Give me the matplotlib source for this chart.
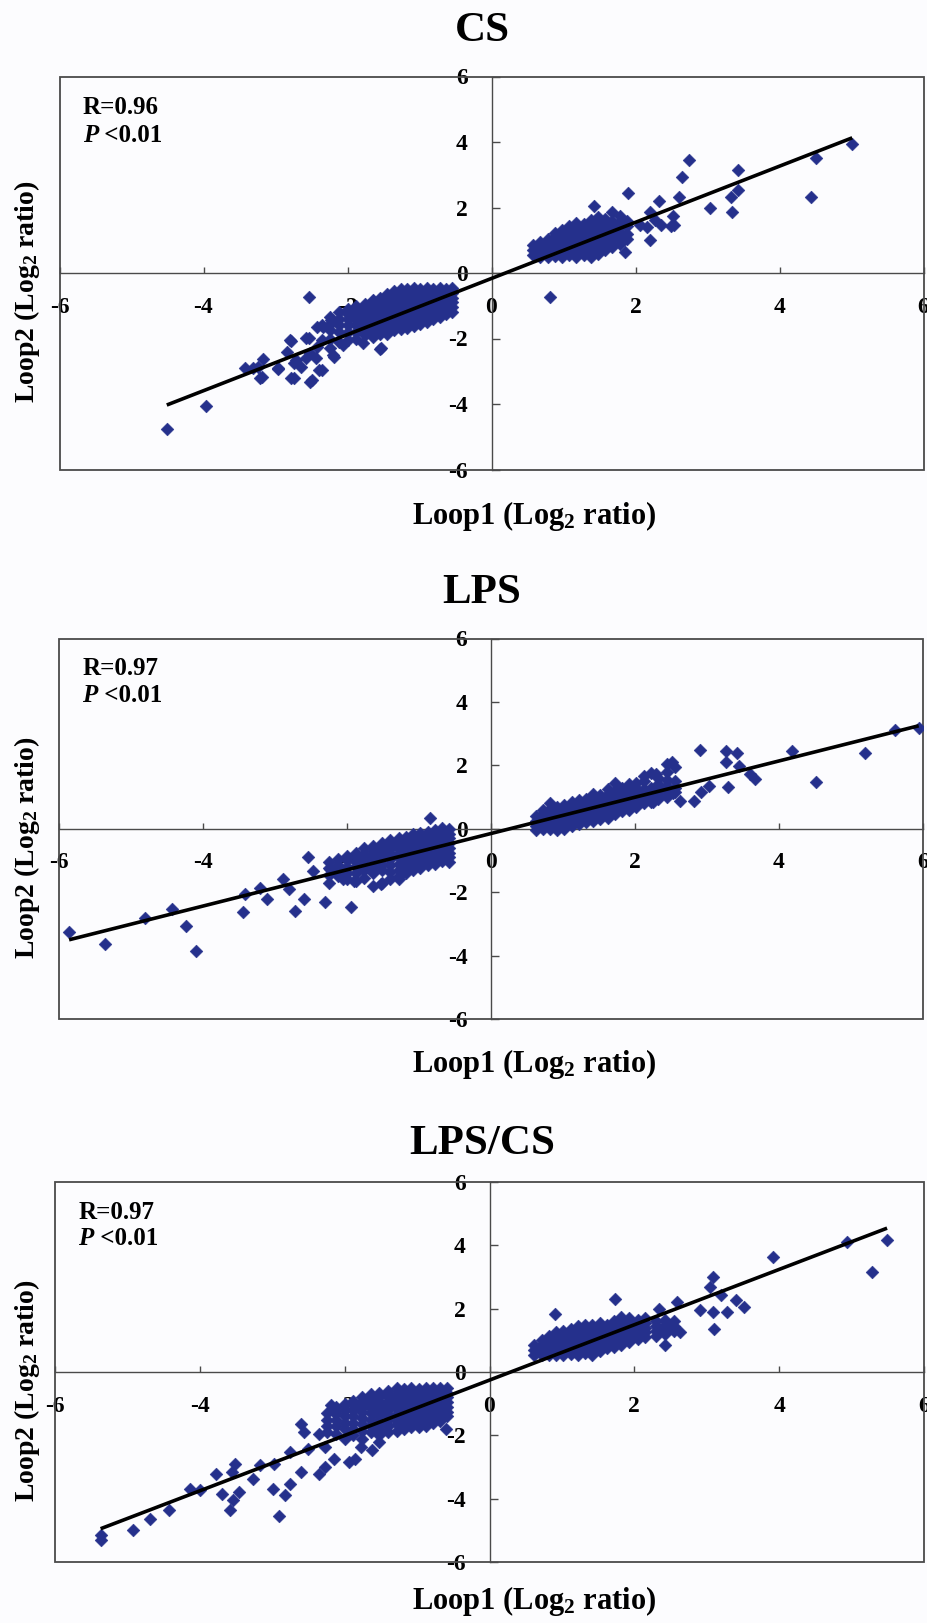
import matplotlib
matplotlib.use("Agg")
import matplotlib.pyplot as plt
from matplotlib.patches import Rectangle
import numpy as np

W, H = 927, 1623

# ---- values ----
# scattered points (x, y)
cs_points = [
    (5.01, 3.94), (4.50, 3.50), (4.44, 2.33), (3.43, 3.14), (3.43, 2.53), (3.33, 2.33),
    (3.34, 1.87), (3.03, 2.00), (2.74, 3.45), (2.64, 2.92), (2.61, 2.31), (2.33, 2.21),
    (2.20, 1.00), (2.49, 1.43), (2.52, 1.74), (2.27, 1.62), (2.20, 1.87), (2.36, 1.47),
    (2.53, 1.47), (2.16, 1.41), (2.06, 1.47), (1.89, 2.43), (1.86, 0.65), (1.42, 2.06),
    (0.81, -0.72),
    (-4.51, -4.77), (-3.97, -4.05), (-2.54, -0.74), (-3.24, -2.86), (-3.42, -2.91),
    (-3.21, -3.22), (-2.97, -2.94), (-2.79, -3.22), (-2.52, -3.32), (-2.80, -2.05),
    (-2.54, -1.99), (-2.34, -1.64), (-2.23, -1.43), (-2.39, -2.96), (-2.19, -2.55),
    (-2.44, -2.61), (-2.72, -2.66), (-1.53, -2.30), (-1.82, -1.64), (-1.65, -0.82),
    (-2.78, -2.07), (-2.84, -2.40), (-3.17, -2.64), (-3.31, -2.91), (-3.19, -3.19),
    (-2.96, -2.91), (-2.75, -3.22), (-2.64, -2.86), (-2.57, -2.61), (-2.43, -2.25),
    (-2.43, -1.64), (-2.75, -2.76), (-2.36, -1.59), (-2.21, -1.45), (-2.57, -1.99),
    (-2.36, -2.04), (-2.52, -2.45), (-2.36, -2.96), (-2.50, -3.27), (-2.20, -2.50),
    (-2.06, -2.20), (-1.55, -2.33), (-1.78, -2.15),
]
# dense clouds, one entry per column: (x, [y, ...])
cs_columns = [
    (0.58, [0.55, 0.70, 0.85]),
    (0.68, [0.50, 0.65, 0.80, 0.95]),
    (0.78, [0.50, 0.62, 0.75, 0.90, 1.05]),
    (0.88, [0.52, 0.65, 0.80, 0.95, 1.10, 1.22]),
    (0.98, [0.50, 0.62, 0.78, 0.90, 1.05, 1.20, 1.32]),
    (1.08, [0.55, 0.70, 0.85, 1.00, 1.15, 1.30, 1.42]),
    (1.18, [0.50, 0.65, 0.80, 0.95, 1.10, 1.25, 1.40, 1.52]),
    (1.28, [0.55, 0.70, 0.90, 1.05, 1.20, 1.35, 1.50]),
    (1.38, [0.50, 0.68, 0.85, 1.00, 1.15, 1.30, 1.45, 1.62]),
    (1.48, [0.58, 0.78, 0.95, 1.10, 1.25, 1.40, 1.55, 1.72]),
    (1.58, [0.70, 0.90, 1.05, 1.20, 1.35, 1.50, 1.65]),
    (1.68, [0.80, 1.00, 1.15, 1.30, 1.45, 1.60, 1.85]),
    (1.78, [0.90, 1.10, 1.25, 1.40, 1.55, 1.75]),
    (1.88, [1.05, 1.20, 1.45, 1.60]),
    (-0.55, [-0.45, -0.60, -0.75, -0.90, -1.05, -1.20]),
    (-0.63, [-0.50, -0.65, -0.80, -0.95, -1.10, -1.25]),
    (-0.72, [-0.45, -0.60, -0.75, -0.90, -1.05, -1.20, -1.35]),
    (-0.81, [-0.50, -0.65, -0.80, -0.95, -1.10, -1.25, -1.40]),
    (-0.90, [-0.45, -0.60, -0.75, -0.90, -1.05, -1.20, -1.35, -1.50]),
    (-0.99, [-0.50, -0.65, -0.80, -0.95, -1.10, -1.25, -1.40, -1.55]),
    (-1.08, [-0.45, -0.60, -0.75, -0.90, -1.05, -1.20, -1.35, -1.50, -1.62]),
    (-1.17, [-0.50, -0.65, -0.80, -0.95, -1.10, -1.25, -1.40, -1.55, -1.68]),
    (-1.26, [-0.50, -0.65, -0.80, -0.95, -1.10, -1.25, -1.40, -1.55, -1.72]),
    (-1.35, [-0.55, -0.70, -0.85, -1.00, -1.15, -1.30, -1.45, -1.60, -1.75]),
    (-1.45, [-0.65, -0.80, -0.95, -1.10, -1.25, -1.40, -1.55, -1.70, -1.85]),
    (-1.55, [-0.75, -0.90, -1.05, -1.20, -1.35, -1.50, -1.65, -1.85]),
    (-1.65, [-0.85, -1.00, -1.15, -1.30, -1.45, -1.60, -1.80, -1.95]),
    (-1.76, [-0.95, -1.10, -1.25, -1.40, -1.55, -1.72, -1.90]),
    (-1.88, [-1.00, -1.15, -1.30, -1.45, -1.60, -1.80, -2.00]),
    (-2.00, [-1.10, -1.25, -1.40, -1.60, -1.80, -2.05]),
    (-2.12, [-1.20, -1.40, -1.60, -1.80, -2.10]),
    (-2.25, [-1.35, -1.55, -1.75, -2.00, -2.30]),
]

lps_points = [
    (5.94, 3.19), (5.61, 3.11), (5.19, 2.40), (4.52, 1.48), (4.18, 2.46), (3.67, 1.56),
    (3.60, 1.72), (3.44, 1.98), (3.29, 1.32), (3.27, 2.46), (3.26, 2.11), (3.42, 2.40),
    (2.90, 2.49), (2.92, 1.17), (2.82, 0.88), (2.62, 0.88), (3.03, 1.35), (2.52, 2.09),
    (2.53, 1.14), (2.29, 1.72), (2.25, 0.83),
    (-5.86, -3.27), (-5.36, -3.63), (-4.81, -2.82), (-4.43, -2.53), (-4.24, -3.06),
    (-4.10, -3.84), (-3.44, -2.61), (-3.41, -2.06), (-3.21, -1.88), (-3.11, -2.22),
    (-2.89, -1.59), (-2.72, -2.58), (-2.80, -1.90), (-2.60, -2.22), (-2.54, -0.90),
    (-2.47, -1.32), (-2.31, -2.32), (-2.23, -1.27), (-1.94, -2.48), (-2.06, -1.59),
    (-1.90, -1.64), (-1.53, -1.74), (-1.28, -1.59), (-0.85, 0.33),
]
lps_columns = [
    (0.62, [-0.05, 0.10, 0.25, 0.40]),
    (0.72, [-0.02, 0.12, 0.28, 0.45, 0.60]),
    (0.82, [0.00, 0.15, 0.30, 0.45, 0.62, 0.80]),
    (0.92, [-0.05, 0.10, 0.25, 0.40, 0.55, 0.70]),
    (1.02, [0.00, 0.15, 0.30, 0.45, 0.60, 0.75]),
    (1.12, [0.10, 0.25, 0.40, 0.55, 0.70, 0.85]),
    (1.22, [0.15, 0.30, 0.45, 0.60, 0.75, 0.90]),
    (1.32, [0.20, 0.35, 0.50, 0.65, 0.80, 0.95]),
    (1.42, [0.25, 0.40, 0.55, 0.70, 0.85, 1.00, 1.10]),
    (1.52, [0.30, 0.45, 0.60, 0.75, 0.90, 1.05]),
    (1.62, [0.35, 0.50, 0.65, 0.80, 0.95, 1.10, 1.25]),
    (1.72, [0.45, 0.60, 0.75, 0.90, 1.05, 1.20, 1.45]),
    (1.82, [0.55, 0.70, 0.85, 1.00, 1.15, 1.30]),
    (1.92, [0.60, 0.75, 0.90, 1.05, 1.20, 1.40]),
    (2.02, [0.70, 0.85, 1.00, 1.15, 1.30, 1.45]),
    (2.12, [0.80, 0.95, 1.10, 1.25, 1.50, 1.65]),
    (2.22, [0.85, 1.00, 1.15, 1.30, 1.75]),
    (2.32, [0.95, 1.10, 1.25, 1.40, 1.60]),
    (2.45, [1.00, 1.20, 1.35, 1.55, 1.80, 2.05]),
    (2.55, [1.15, 1.30, 1.50, 1.95]),
    (-0.58, [0.00, -0.15, -0.30, -0.45, -0.60, -0.75, -0.90, -1.05]),
    (-0.68, [0.02, -0.12, -0.28, -0.42, -0.58, -0.72, -0.88, -1.02]),
    (-0.78, [-0.05, -0.20, -0.35, -0.50, -0.65, -0.80, -0.95, -1.10]),
    (-0.88, [-0.10, -0.25, -0.40, -0.55, -0.70, -0.85, -1.00, -1.15]),
    (-0.98, [-0.12, -0.28, -0.42, -0.58, -0.72, -0.88, -1.05, -1.25]),
    (-1.08, [-0.18, -0.32, -0.48, -0.62, -0.78, -0.95, -1.10, -1.30]),
    (-1.18, [-0.25, -0.40, -0.55, -0.70, -0.85, -1.00, -1.20, -1.40]),
    (-1.28, [-0.30, -0.45, -0.60, -0.75, -0.90, -1.10, -1.30, -1.50]),
    (-1.40, [-0.35, -0.50, -0.65, -0.80, -0.95, -1.15, -1.35, -1.60]),
    (-1.52, [-0.45, -0.60, -0.75, -0.90, -1.10, -1.30, -1.70]),
    (-1.64, [-0.55, -0.70, -0.85, -1.00, -1.20, -1.40, -1.80]),
    (-1.76, [-0.60, -0.80, -0.95, -1.10, -1.30, -1.55]),
    (-1.88, [-0.75, -0.90, -1.05, -1.20, -1.40, -1.65]),
    (-2.00, [-0.85, -1.00, -1.20, -1.40, -1.60]),
    (-2.12, [-0.95, -1.15, -1.30, -1.50]),
    (-2.25, [-1.05, -1.25, -1.45, -1.70]),
]

ratio_points = [
    (5.49, 4.16), (4.93, 4.11), (5.28, 3.16), (3.91, 3.63), (3.08, 3.00), (3.04, 2.68),
    (3.51, 2.05), (3.40, 2.26), (3.20, 2.42), (3.28, 1.89), (3.08, 1.89), (2.91, 1.95),
    (3.10, 1.37), (2.59, 2.21), (2.34, 2.00), (2.63, 1.26), (2.42, 0.84), (2.47, 1.53),
    (1.73, 2.32), (0.91, 1.84),
    (-5.36, -5.32), (-5.37, -5.16), (-4.92, -5.00), (-4.69, -4.63), (-4.42, -4.35),
    (-4.13, -3.68), (-4.00, -3.74), (-3.78, -3.21), (-3.70, -3.84), (-3.58, -4.37),
    (-3.54, -4.05), (-3.46, -3.79), (-3.51, -2.89), (-3.56, -3.16), (-3.27, -3.37),
    (-3.17, -2.95), (-2.99, -3.68), (-2.91, -4.56), (-2.83, -3.89), (-2.76, -3.53),
    (-2.97, -2.89), (-2.60, -3.16), (-2.76, -2.53), (-2.60, -1.63), (-2.56, -1.89),
    (-2.35, -3.21), (-2.27, -3.00), (-2.35, -1.95), (-2.51, -2.42), (-2.27, -2.37),
    (-2.15, -2.74), (-1.94, -2.84), (-1.86, -2.74), (-1.78, -2.37), (-2.15, -1.26),
    (-2.19, -1.05), (-1.62, -2.47), (-1.53, -2.21), (-0.60, -1.79),
]
ratio_columns = [
    (0.62, [0.55, 0.70, 0.85]),
    (0.72, [0.55, 0.70, 0.85, 1.00]),
    (0.82, [0.55, 0.70, 0.85, 1.00, 1.15]),
    (0.92, [0.55, 0.68, 0.82, 0.95, 1.10, 1.25]),
    (1.02, [0.55, 0.70, 0.85, 1.00, 1.15, 1.30]),
    (1.12, [0.58, 0.72, 0.88, 1.02, 1.18, 1.35]),
    (1.22, [0.55, 0.70, 0.85, 1.00, 1.15, 1.30, 1.45]),
    (1.32, [0.60, 0.75, 0.90, 1.05, 1.20, 1.35, 1.50]),
    (1.42, [0.55, 0.70, 0.88, 1.02, 1.18, 1.32, 1.50]),
    (1.52, [0.65, 0.80, 0.95, 1.10, 1.25, 1.40, 1.55]),
    (1.62, [0.75, 0.90, 1.05, 1.20, 1.35, 1.50]),
    (1.72, [0.80, 0.95, 1.10, 1.25, 1.40, 1.60]),
    (1.82, [0.85, 1.00, 1.15, 1.30, 1.45, 1.62, 1.75]),
    (1.92, [0.95, 1.10, 1.25, 1.40, 1.55, 1.70]),
    (2.05, [1.05, 1.20, 1.35, 1.50, 1.65]),
    (2.15, [1.10, 1.25, 1.40, 1.55, 1.70]),
    (2.30, [1.15, 1.30, 1.45, 1.60]),
    (2.42, [1.20, 1.35, 1.50, 1.65]),
    (2.55, [1.30, 1.45, 1.60]),
    (-0.58, [-0.50, -0.65, -0.80, -0.95, -1.10, -1.25, -1.40]),
    (-0.68, [-0.50, -0.65, -0.80, -0.95, -1.10, -1.25, -1.40, -1.55]),
    (-0.78, [-0.52, -0.68, -0.82, -0.98, -1.12, -1.28, -1.42, -1.60]),
    (-0.88, [-0.50, -0.65, -0.80, -0.95, -1.10, -1.25, -1.40, -1.55, -1.70]),
    (-0.98, [-0.55, -0.70, -0.85, -1.00, -1.15, -1.30, -1.45, -1.60, -1.75]),
    (-1.08, [-0.50, -0.65, -0.80, -0.95, -1.10, -1.25, -1.40, -1.55, -1.75]),
    (-1.18, [-0.55, -0.70, -0.85, -1.00, -1.15, -1.30, -1.45, -1.60, -1.80]),
    (-1.28, [-0.52, -0.68, -0.85, -1.00, -1.15, -1.32, -1.50, -1.65, -1.85]),
    (-1.40, [-0.60, -0.75, -0.90, -1.05, -1.20, -1.35, -1.50, -1.70, -1.90]),
    (-1.52, [-0.65, -0.80, -0.95, -1.10, -1.25, -1.40, -1.60, -1.80, -2.00]),
    (-1.64, [-0.70, -0.85, -1.00, -1.15, -1.30, -1.50, -1.70, -1.90]),
    (-1.76, [-0.80, -0.95, -1.10, -1.25, -1.45, -1.65, -1.85, -2.10]),
    (-1.88, [-0.90, -1.05, -1.20, -1.40, -1.60, -1.80, -2.00]),
    (-2.00, [-1.00, -1.20, -1.40, -1.60, -1.80, -2.10]),
    (-2.12, [-1.10, -1.30, -1.50, -1.70, -1.95]),
    (-2.25, [-1.30, -1.50, -1.70, -1.90]),
]

titles = ["CS", "LPS", "LPS/CS"]
r_values = ["R=0.96", "R=0.97", "R=0.97"]
# trend line (slope, intercept)
fits = [(0.857, -0.166), (0.572, -0.150), (0.874, -0.256)]
ticks = [-6, -4, -2, 0, 2, 4, 6]

# layout in pixels of the 927x1623 picture
boxes = [(59.5, 923.5, 76.5, 469.5), (59.0, 923.0, 638.5, 1019.0), (55.0, 924.0, 1182.0, 1562.0)]
title_y = [31, 593, 1144]
xlabel_y = [516, 1064, 1601]
ylabel_y = [292, 848, 1391]

POINT = "#25308c"
FRAME = "#4a4a4a"
BG = "#fcfcfe"

plt.rcParams["font.family"] = ["Liberation Serif", "DejaVu Serif"]
plt.rcParams["font.weight"] = "bold"
plt.rcParams["axes.unicode_minus"] = False
plt.rcParams["mathtext.fontset"] = "custom"
plt.rcParams["mathtext.rm"] = "Liberation Serif:bold"
plt.rcParams["mathtext.it"] = "Liberation Serif:italic:bold"
plt.rcParams["mathtext.bf"] = "Liberation Serif:bold"


def to_xy(points, columns):
    xs = [p[0] for p in points]
    ys = [p[1] for p in points]
    for x, col in columns:
        xs += [x] * len(col)
        ys += list(col)
    return np.array(xs), np.array(ys)


def draw_panel(fig, i, x, y):
    left, right, top, bottom = boxes[i]
    ax = fig.add_axes([left / W, 1 - bottom / H, (right - left) / W, (bottom - top) / H])
    ax.set_facecolor(BG)
    ax.scatter(x, y, marker="D", s=42, color=POINT, edgecolor=POINT, linewidth=0.4, zorder=3)
    slope, intercept = fits[i]
    xl = np.array([x.min(), x.max()])
    ax.plot(xl, slope * xl + intercept, color="black", lw=2.6, zorder=4, solid_capstyle="butt")

    ax.set_xlim(-6, 6)
    ax.set_ylim(-6, 6)
    ax.spines["top"].set_visible(False)
    ax.spines["right"].set_visible(False)
    ax.spines["left"].set_position(("data", 0))
    ax.spines["bottom"].set_position(("data", 0))
    for s in ("left", "bottom"):
        ax.spines[s].set_color(FRAME)
        ax.spines[s].set_linewidth(1.0)
    ax.set_xticks(ticks)
    ax.set_yticks(ticks)
    ax.set_xticklabels([str(t) for t in ticks])
    ax.set_yticklabels([str(t) for t in ticks])
    ax.tick_params(axis="x", direction="in", length=4, width=1, color=FRAME, pad=17, labelsize=17)
    ax.tick_params(axis="y", direction="in", length=6, width=1, color=FRAME, pad=17, labelsize=17)
    for lab in ax.get_xticklabels() + ax.get_yticklabels():
        lab.set_fontweight("bold")
    ax.add_patch(Rectangle((0, 0), 1, 1, transform=ax.transAxes, fill=False,
                           edgecolor=FRAME, lw=1.3, zorder=2, clip_on=False))

    ax.text(0.027, 0.92, r_values[i], transform=ax.transAxes, fontsize=18,
            fontweight="bold", va="center", ha="left")
    p = ax.text(0.027, 0.851, "P", transform=ax.transAxes, fontsize=18,
                fontweight="bold", style="italic", va="center", ha="left")
    ax.annotate(" <0.01", xy=(1, 0), xycoords=p, va="bottom", ha="left",
                fontsize=18, fontweight="bold")

    fig.text(482 / W, 1 - title_y[i] / H, titles[i], ha="center", va="center",
             fontsize=31, fontweight="bold")
    fig.text(534 / W, 1 - xlabel_y[i] / H, r"Loop1 (Log$_{\mathrm{2}}$ ratio)",
             ha="center", va="center", fontsize=22, fontweight="bold")
    fig.text(27 / W, 1 - ylabel_y[i] / H, r"Loop2 (Log$_{\mathrm{2}}$ ratio)", rotation=90,
             ha="center", va="center", fontsize=20, fontweight="bold")
    return ax


fig = plt.figure(figsize=(W / 100, H / 100), dpi=100, facecolor=BG)
data = [to_xy(cs_points, cs_columns), to_xy(lps_points, lps_columns),
        to_xy(ratio_points, ratio_columns)]
for i, (x, y) in enumerate(data):
    draw_panel(fig, i, x, y)

fig.savefig("out.png", dpi=100, facecolor=BG)
